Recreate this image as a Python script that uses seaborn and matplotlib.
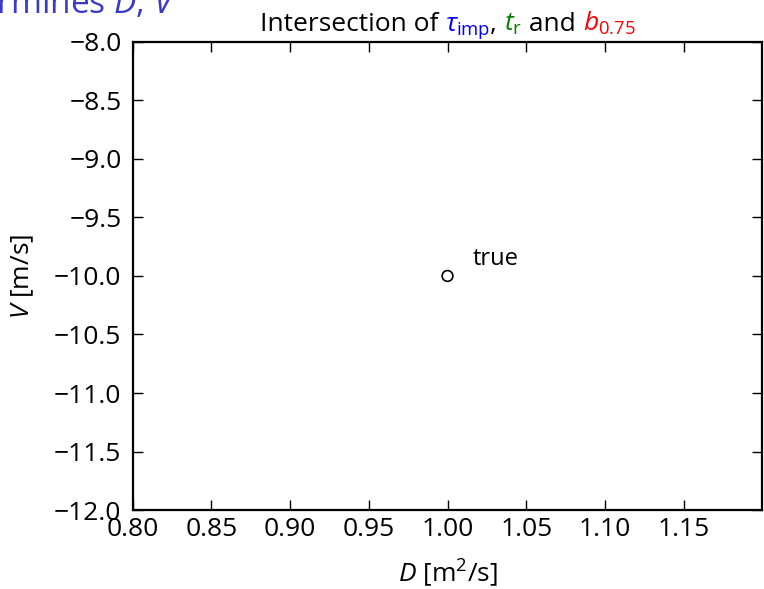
import matplotlib
matplotlib.use("Agg")
import matplotlib.pyplot as plt
import seaborn as sns
import pandas as pd
from matplotlib.offsetbox import TextArea, HPacker, AnchoredOffsetbox

# true parameter point
D_true = [1.0]
V_true = [-10.0]
point_label = "true"

x_ticks = [0.80, 0.85, 0.90, 0.95, 1.00, 1.05, 1.10, 1.15]
y_ticks = [-8.0, -8.5, -9.0, -9.5, -10.0, -10.5, -11.0, -11.5, -12.0]

sns.set_style("white")
FONT = "Open Sans"
plt.rcParams["font.family"] = [FONT, "DejaVu Sans"]
plt.rcParams["mathtext.fontset"] = "custom"
plt.rcParams["mathtext.rm"] = FONT
plt.rcParams["mathtext.it"] = FONT + ":italic"
plt.rcParams["mathtext.default"] = "regular"
for key in ("text.color", "axes.labelcolor", "xtick.color", "ytick.color",
            "axes.edgecolor"):
    plt.rcParams[key] = "black"

FS = 19

fig = plt.figure(figsize=(7.64, 5.89), dpi=100)
ax = fig.add_axes([0.1735, 0.134, 0.8245, 0.795])

df = pd.DataFrame({"D": D_true, "V": V_true})
sns.scatterplot(data=df, x="D", y="V", ax=ax, s=60, marker="o",
                facecolor="none", edgecolor="black", linewidth=1.2, zorder=3)
for d, v in zip(D_true, V_true):
    ax.annotate(point_label, (d, v), xytext=(18, 8), textcoords="offset points",
                fontsize=17, va="baseline", ha="left", color="black")

ax.set_xlim(0.8, 1.2)
ax.set_ylim(-12.0, -8.0)
ax.set_xticks(x_ticks)
ax.set_yticks(y_ticks)
ax.set_xticklabels([f"{t:.2f}" for t in x_ticks])
ax.set_yticklabels([f"{t:.1f}".replace("-", "\u2212") for t in y_ticks])
ax.tick_params(direction="in", length=7, width=1.0, labelsize=FS,
               colors="black", top=True, right=True, left=True, bottom=True)
ax.tick_params(axis="x", pad=5)
ax.tick_params(axis="y", pad=8)

for sp in ax.spines.values():
    sp.set_visible(True)
    sp.set_linewidth(1.6)
    sp.set_color("black")

ax.set_xlabel("$\\it{D}$ [m$^2$/s]", fontsize=FS, labelpad=11, color="black")
ax.set_ylabel("$\\it{V}$ [m/s]", fontsize=FS, labelpad=13, color="black")

# multicoloured title
parts = [
    ("Intersection of ", "black"),
    ("$\\mathit{\\tau}_{\\rm imp}$", "blue"),
    (", ", "black"),
    ("$\\it{t}_{\\rm r}$", "green"),
    (" and ", "black"),
    ("$\\it{b}_{0.75}$", "red"),
]
areas = [TextArea(t, textprops=dict(color=c, fontsize=FS)) for t, c in parts]
box = HPacker(children=areas, align="baseline", pad=0, sep=0)
anchored = AnchoredOffsetbox(loc="lower center", child=box, pad=0, frameon=False,
                             bbox_to_anchor=(0.5, 1.0), bbox_transform=ax.transAxes,
                             borderpad=0.05)
ax.add_artist(anchored)

fig.text(0.231, 0.978, "Data determines $\\it{D}$, $\\it{V}$", fontsize=24,
         color="#3a3ac4", ha="right", va="baseline")

fig.savefig("out.png", dpi=100)
